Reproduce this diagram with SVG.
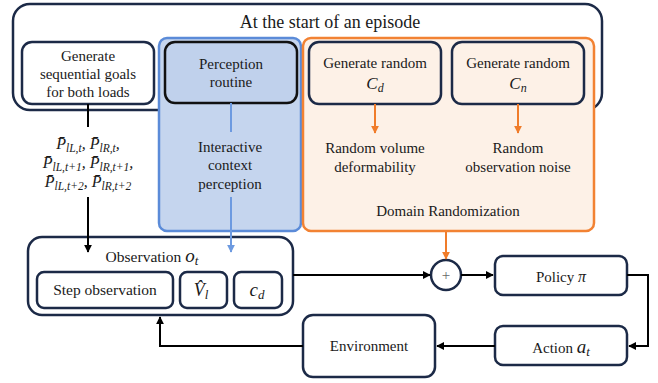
<svg xmlns="http://www.w3.org/2000/svg" width="658" height="383" viewBox="0 0 658 383">
<defs>
<style>
text{font-family:'Liberation Serif','Times New Roman',serif}
.t{font-size:15px;fill:#1a1a1a;text-anchor:middle}
.m{font-style:italic;fill:#1a1a1a}
.nb{fill:#fff;stroke:#1c2a47;stroke-width:2.5}
.k{fill:none;stroke:#000;stroke-width:2}
</style>
<marker id="ak" viewBox="0 0 10 10" refX="9" refY="5" markerWidth="4" markerHeight="4" orient="auto"><path d="M0,0L10,5L0,10z" fill="#000"/></marker>
<marker id="ao" viewBox="0 0 10 10" refX="9" refY="5" markerWidth="4" markerHeight="4" orient="auto"><path d="M0,0L10,5L0,10z" fill="#f07c2a"/></marker>
<marker id="ab" viewBox="0 0 10 10" refX="9" refY="5" markerWidth="4" markerHeight="4" orient="auto"><path d="M0,0L10,5L0,10z" fill="#6d9ae0"/></marker>
</defs>
<rect width="658" height="383" fill="#fff"/>
<g id="episode">
<rect x="13" y="4" width="589" height="106" rx="17" class="nb"/>
<text x="330" y="28" class="t" style="font-size:18px">At the start of an episode</text>
</g>
<g id="goals">
<rect x="22" y="42" width="132" height="62" rx="10" class="nb"/>
<text x="88" y="61" class="t">Generate</text>
<text x="88" y="79" class="t">sequential goals</text>
<text x="88" y="97" class="t">for both loads</text>
</g>
<g id="perception-group">
<rect x="159" y="38" width="142" height="193" rx="8" fill="#c5d5ee" stroke="#5b8bd8" stroke-width="2.5"/>
<text x="230" y="152" class="t">Interactive</text>
<text x="230" y="170" class="t">context</text>
<text x="230" y="189" class="t">perception</text>
</g>
<g id="perception-routine">
<rect x="165" y="42" width="132" height="61" rx="10" fill="#c0d1ec" stroke="#111" stroke-width="2.5"/>
<text x="231" y="69" class="t">Perception</text>
<text x="231" y="87" class="t">routine</text>
</g>
<g id="domain-randomization">
<rect x="303" y="38" width="291" height="193" rx="8" fill="#fdf1e7" stroke="#f28233" stroke-width="2.5"/>
<text x="375" y="153" class="t">Random volume</text>
<text x="375" y="172" class="t">deformability</text>
<text x="518" y="153" class="t">Random</text>
<text x="518" y="172" class="t">observation noise</text>
<text x="448" y="216" class="t">Domain Randomization</text>
</g>
<g id="gen-cd">
<rect x="309" y="42" width="132" height="62" rx="10" class="nb" style="fill:#fdf1e7"/>
<text x="375" y="68" class="t">Generate random</text>
<text x="375" y="89" class="m" text-anchor="middle" font-size="17">C<tspan font-size="12" dy="3">d</tspan></text>
</g>
<g id="gen-cn">
<rect x="452" y="42" width="132" height="62" rx="10" class="nb" style="fill:#fdf1e7"/>
<text x="518" y="68" class="t">Generate random</text>
<text x="518" y="89" class="m" text-anchor="middle" font-size="17">C<tspan font-size="12" dy="3">n</tspan></text>
</g>
<g id="goal-values">
<text x="88" y="149" class="m" text-anchor="middle" font-size="16">P̄<tspan font-size="11.5" dy="3">lL,t</tspan><tspan dy="-3">, P̄</tspan><tspan font-size="11.5" dy="3">lR,t</tspan><tspan dy="-3">,</tspan></text>
<text x="88" y="168" class="m" text-anchor="middle" font-size="16">P̄<tspan font-size="11.5" dy="3">lL,t+1</tspan><tspan dy="-3">, P̄</tspan><tspan font-size="11.5" dy="3">lR,t+1</tspan><tspan dy="-3">,</tspan></text>
<text x="88" y="187" class="m" text-anchor="middle" font-size="16">P̄<tspan font-size="11.5" dy="3">lL,t+2</tspan><tspan dy="-3">, P̄</tspan><tspan font-size="11.5" dy="3">lR,t+2</tspan></text>
</g>
<g id="observation">
<rect x="28" y="237" width="265" height="78" rx="14" class="nb"/>
<text x="152" y="262" class="t" style="font-size:15.5px">Observation <tspan class="m" font-size="19">o</tspan><tspan class="m" font-size="13" dy="3">t</tspan></text>
</g>
<g id="step-observation">
<rect x="37" y="272" width="136" height="36" rx="7" class="nb"/>
<text x="105" y="295" class="t" style="font-size:15.5px">Step observation</text>
</g>
<g id="v-hat">
<rect x="180" y="272" width="47" height="36" rx="7" class="nb"/>
<text x="201" y="296" class="m" text-anchor="middle" font-size="18">V̂<tspan font-size="13" dy="3">l</tspan></text>
</g>
<g id="c-d">
<rect x="234" y="272" width="48" height="36" rx="7" class="nb"/>
<text x="257" y="296" class="m" text-anchor="middle" font-size="19">c<tspan font-size="13" dy="3">d</tspan></text>
</g>
<g id="sum">
<circle cx="446" cy="275" r="15" class="nb"/>
<text x="446" y="280" class="t" style="fill:#666">+</text>
</g>
<g id="policy">
<rect x="495" y="256" width="132" height="39" rx="8" class="nb"/>
<text x="561" y="282" class="t">Policy <tspan class="m" font-size="16">π</tspan></text>
</g>
<g id="action">
<rect x="495" y="326" width="132" height="39" rx="8" class="nb"/>
<text x="561" y="353" class="t">Action <tspan class="m" font-size="19">a</tspan><tspan class="m" font-size="13" dy="3">t</tspan></text>
</g>
<g id="environment">
<rect x="303" y="315" width="132" height="62" rx="10" class="nb"/>
<text x="369" y="351" class="t">Environment</text>
</g>
<g id="connectors">
<path d="M88,104V127" class="k"/>
<path d="M88,197V252" class="k" marker-end="url(#ak)"/>
<path d="M231,103V132" fill="none" stroke="#6d9ae0" stroke-width="2"/>
<path d="M231,197V252" fill="none" stroke="#6d9ae0" stroke-width="2" marker-end="url(#ab)"/>
<path d="M375,104V133" fill="none" stroke="#f07c2a" stroke-width="2" marker-end="url(#ao)"/>
<path d="M518,104V133" fill="none" stroke="#f07c2a" stroke-width="2" marker-end="url(#ao)"/>
<path d="M446,232V259" fill="none" stroke="#f07c2a" stroke-width="2" marker-end="url(#ao)"/>
<path d="M293,275H430" class="k" marker-end="url(#ak)"/>
<path d="M461,275H493" class="k" marker-end="url(#ak)"/>
<path d="M627,275H648V346H629" class="k" marker-end="url(#ak)"/>
<path d="M495,346H437" class="k" marker-end="url(#ak)"/>
<path d="M303,346H160V317" class="k" marker-end="url(#ak)"/>
</g>
</svg>
